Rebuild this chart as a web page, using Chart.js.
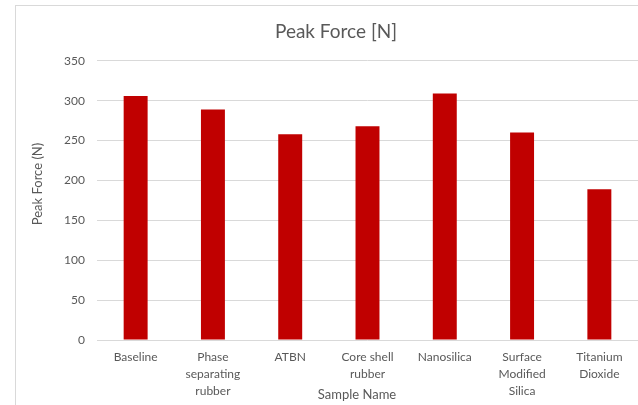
<!DOCTYPE html>
<html>
<head>
<meta charset="utf-8">
<script src="https://cdn.jsdelivr.net/npm/chart.js@4"></script>
<style>
  html, body { margin: 0; padding: 0; background: #fff; overflow: hidden; }
  #wrap { position: relative; width: 672px; height: 420px; }
</style>
</head>
<body>
<div id="wrap"><canvas id="c" width="672" height="420"></canvas></div>
<script>
// Sample names (multi-line labels) and peak force values in newtons
const sampleNames = [
  ['Baseline'],
  ['Phase', 'separating', 'rubber'],
  ['ATBN'],
  ['Core shell', 'rubber'],
  ['Nanosilica'],
  ['Surface', 'Modified', 'Silica'],
  ['Titanium', 'Dioxide']
];
const peakForce = [306, 289, 258, 268, 309, 260, 189];
const yTicks = [0, 50, 100, 150, 200, 250, 300, 350];

const TEXT = '#595959';
const GRID = '#d9d9d9';
const FONT = 'Lato, "Liberation Sans", sans-serif';

// Outer frame and free-placed axis titles
const frame = {
  id: 'frame',
  beforeDraw(chart) {
    const ctx = chart.ctx;
    ctx.save();
    ctx.fillStyle = '#fff';
    ctx.fillRect(0, 0, chart.width, chart.height);
    ctx.strokeStyle = GRID;
    ctx.lineWidth = 1;
    ctx.strokeRect(15.5, 5.5, 641, 430);
    ctx.restore();
  },
  afterDraw(chart) {
    const ctx = chart.ctx;
    ctx.save();
    ctx.fillStyle = TEXT;
    ctx.font = '13px ' + FONT;
    ctx.textAlign = 'center';
    ctx.textBaseline = 'middle';
    ctx.fillText('Sample Name', 357, 395);
    ctx.translate(38, 184);
    ctx.rotate(-Math.PI / 2);
    ctx.fillText('Peak Force (N)', 0, 0);
    ctx.restore();
  }
};

new Chart(document.getElementById('c'), {
  type: 'bar',
  data: {
    labels: sampleNames,
    datasets: [{
      label: 'Peak Force [N]',
      data: peakForce,
      backgroundColor: '#c00000',
      borderWidth: 0,
      barPercentage: 0.31,
      categoryPercentage: 1
    }]
  },
  options: {
    responsive: false,
    animation: false,
    layout: { padding: { left: 34, right: 34, top: 0, bottom: 20 } },
    plugins: {
      legend: { display: false },
      tooltip: { enabled: false },
      title: {
        display: true,
        text: 'Peak Force [N]',
        color: TEXT,
        font: { family: FONT, size: 19, weight: 'normal', lineHeight: 1.2 },
        padding: { top: 20, bottom: 18 }
      }
    },
    scales: {
      x: {
        grid: { display: false, drawTicks: false },
        border: { display: false },
        ticks: {
          color: TEXT,
          font: { family: FONT, size: 12, lineHeight: 1.4 },
          padding: 9,
          maxRotation: 0,
          autoSkip: false
        },
        afterFit(scale) { scale.height = 60; }
      },
      y: {
        min: 0,
        max: 350,
        afterBuildTicks(scale) { scale.ticks = yTicks.map(v => ({ value: v })); },
        grid: { color: GRID, lineWidth: 1, drawTicks: false },
        border: { display: false },
        ticks: {
          color: TEXT,
          font: { family: FONT, size: 12 },
          padding: 12
        },
        afterFit(scale) { scale.width = 63; }
      }
    }
  },
  plugins: [frame]
});
</script>
</body>
</html>
